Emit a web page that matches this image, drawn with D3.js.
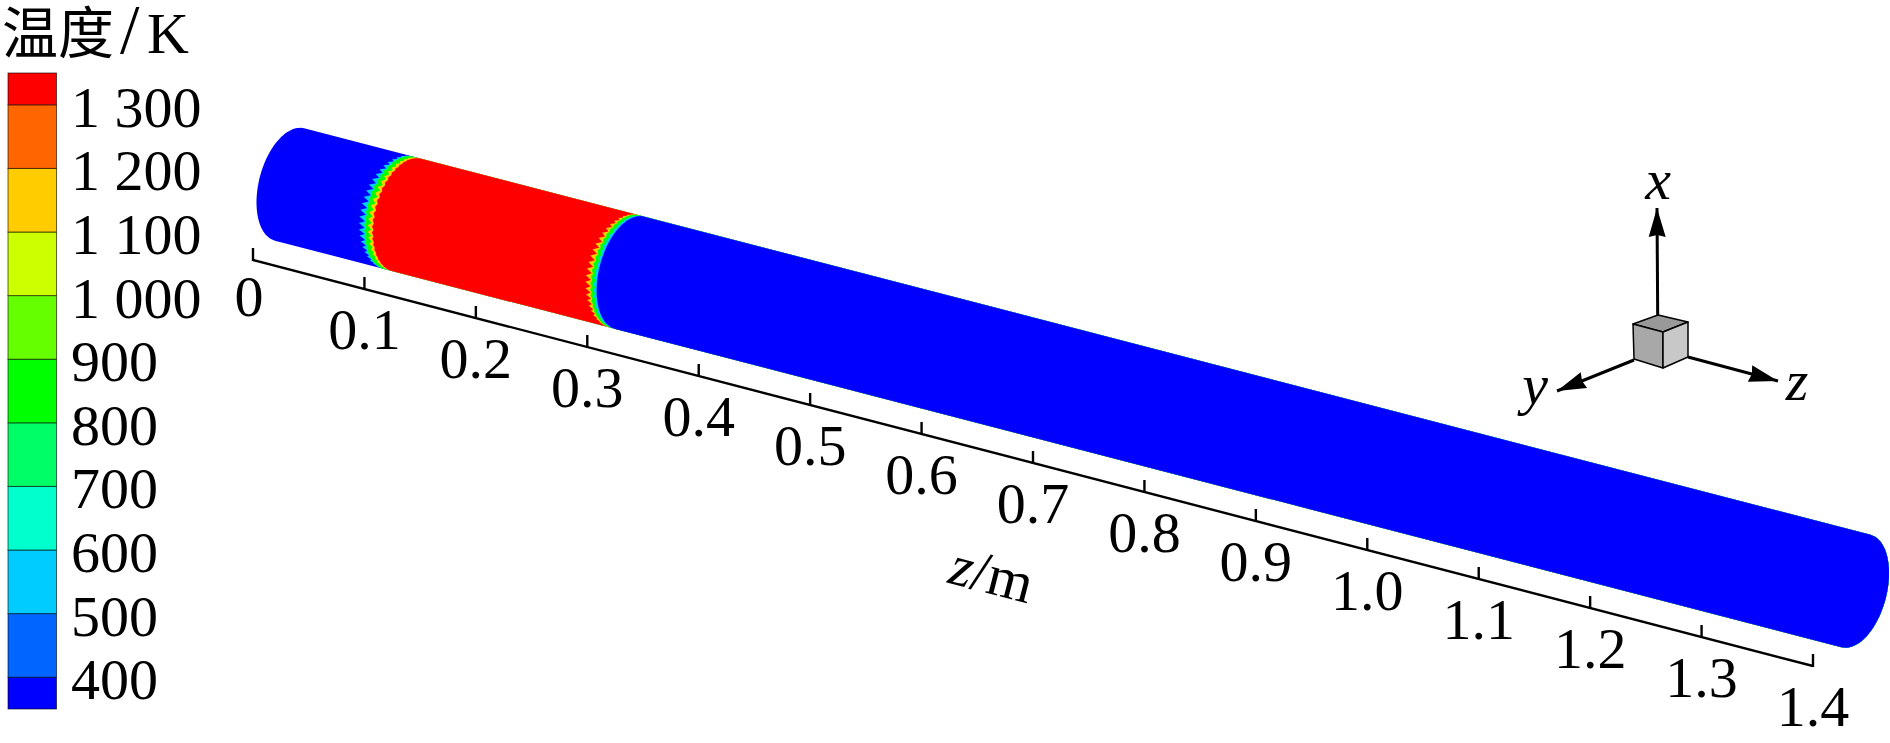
<!DOCTYPE html>
<html>
<head>
<meta charset="utf-8">
<title>温度/K</title>
<script src="https://d3js.org/d3.v7.min.js"></script>
<style>
body { margin: 0; background: #fff; }
text { font-family: "Liberation Serif", serif; font-size: 58px; fill: #000; }
</style>
</head>
<body>
<svg id="chart" width="1890" height="743"></svg>
<script>
// colour bar
var levels = [400, 500, 600, 700, 800, 900, 1000, 1100, 1200, 1300];
var levelColors = ["#0000ff", "#0066ff", "#00ccff", "#00ffcc", "#00ff66", "#00ff00", "#66ff00", "#ccff00", "#ffcc00", "#ff6600", "#ff0000"];
var barBounds = [350, 400, 500, 600, 700, 800, 900, 1000, 1100, 1200, 1300, 1350];

// z axis
var zTicks = [0, 0.1, 0.2, 0.3, 0.4, 0.5, 0.6, 0.7, 0.8, 0.9, 1.0, 1.1, 1.2, 1.3, 1.4];

// temperature along the tube, painted in z order
var stopZ = [0, 0.0965, 0.0975, 0.1025, 0.1045, 0.2985, 0.2995, 0.3025, 0.304];
var stopT = [380, 550, 850, 1150, 1340, 1150, 850, 550, 380];
var stopJag = [0, 0.0055, 0.0015, 0.0035, 0.0015, 0.005, 0.0015, 0.0015, 0];

var svg = d3.select("#chart");

var color = d3.scaleThreshold().domain(levels).range(levelColors);
var barY = d3.scaleLinear().domain([350, 1350]).range([709, 73]);

// tube centre line
var tubeX = d3.scaleLinear().domain([0, 1.4]).range([289.5, 1856]);
var tubeY = d3.scaleLinear().domain([0, 1.4]).range([184.5, 591]);
// axis line under the tube
var axisX = d3.scaleLinear().domain([0, 1.4]).range([253, 1813]);
var axisY = d3.scaleLinear().domain([0, 1.4]).range([260, 666]);

var slope = Math.atan2(tubeY(1.4) - tubeY(0), tubeX(1.4) - tubeX(0));
var dx = Math.cos(slope), dy = Math.sin(slope);
var radiusA = 58, radiusB = 30.6;
var line = d3.line();

function ringPoint(z, t, side) {
  var u = side * radiusB * Math.cos(t), v = radiusA * Math.sin(t);
  return [tubeX(z) + u * dx - v * dy, tubeY(z) + u * dy + v * dx];
}

// jagged far side of a section, spikes stick out to the low z side
function leftEdge(z, jag) {
  var n = 54;
  return d3.range(n + 1).map(function (i) {
    var t = -Math.PI / 2 + Math.PI * i / n;
    var off = i % 2 ? -jag * Math.cos(t) : 0;
    return ringPoint(z + off, t, -1);
  });
}

function rightCap() {
  return d3.range(41).map(function (i) {
    return ringPoint(1.4, Math.PI / 2 - Math.PI * i / 40, 1);
  });
}

svg.append("g").selectAll("path")
  .data(stopZ)
  .join("path")
  .attr("d", function (z, i) {
    return line(leftEdge(z, stopJag[i]).concat(rightCap())) + "Z";
  })
  .attr("fill", function (z, i) { return color(stopT[i]); });

// colour bar
var bar = svg.append("g");
bar.selectAll("rect")
  .data(d3.pairs(barBounds))
  .join("rect")
  .attr("x", 8)
  .attr("width", 48.5)
  .attr("y", function (d) { return barY(d[1]); })
  .attr("height", function (d) { return barY(d[0]) - barY(d[1]); })
  .attr("fill", function (d) { return color(d[0]); })
  .attr("stroke", "#000")
  .attr("stroke-opacity", 0.6)
  .attr("stroke-width", 1);

var locale = d3.formatLocale({ decimal: ".", thousands: " ", grouping: [3], currency: ["", ""] });
var barAxis = d3.axisRight(barY).tickValues(levels).tickFormat(locale.format(",d")).tickSize(0).tickPadding(0);
var barG = svg.append("g").attr("transform", "translate(71,3)").call(barAxis);
barG.select(".domain").remove();
barG.attr("font-family", null).attr("font-size", null);

var title = svg.append("text").attr("x", 2).attr("y", 53);
title.append("tspan").style("font-family", "'Noto Sans CJK SC'").style("font-size", "56px").text("温度");
title.append("tspan").attr("x", 120).style("font-size", "70px").text("/");
title.append("tspan").attr("x", 147).text("K");

// z axis
var zAxis = svg.append("g");
zAxis.append("line")
  .attr("x1", axisX(0)).attr("y1", axisY(0))
  .attr("x2", axisX(1.4)).attr("y2", axisY(1.4))
  .attr("stroke", "#000").attr("stroke-width", 2.4);
zAxis.selectAll(".tick")
  .data(zTicks)
  .join("line")
  .attr("class", "tick")
  .attr("x1", axisX).attr("x2", axisX)
  .attr("y1", function (d) { return axisY(d) + 1; })
  .attr("y2", function (d) { return axisY(d) - 12; })
  .attr("stroke", "#000").attr("stroke-width", 2.4);
zAxis.selectAll("text")
  .data(zTicks)
  .join("text")
  .attr("text-anchor", "middle")
  .attr("x", function (d) { return axisX(d) - (d === 0 ? 4 : 0); })
  .attr("y", function (d) { return axisY(d) + (d === 0 ? 56 : 60); })
  .text(function (d) { return d === 0 ? "0" : d.toFixed(1); });

var zLabel = svg.append("text")
  .attr("text-anchor", "middle")
  .attr("transform", "translate(987,593) rotate(14.5)");
zLabel.append("tspan").style("font-style", "italic").text("z");
zLabel.append("tspan").text("/m");

// orientation triad
var defs = svg.append("defs");
defs.append("marker")
  .attr("id", "head")
  .attr("markerUnits", "userSpaceOnUse")
  .attr("markerWidth", 32).attr("markerHeight", 20)
  .attr("viewBox", "0 0 32 20")
  .attr("refX", 30).attr("refY", 10)
  .attr("orient", "auto")
  .append("path")
  .attr("d", "M1,1.5 L30,10 L1,18.5 L3,10 Z")
  .attr("fill", "#000");

var triad = svg.append("g");
var arrows = [
  [[1657.7, 316], [1657, 208]],
  [[1634, 360], [1557, 391]],
  [[1688, 357], [1778, 381]]
];
triad.selectAll("line")
  .data(arrows)
  .join("line")
  .attr("x1", function (d) { return d[0][0]; })
  .attr("y1", function (d) { return d[0][1]; })
  .attr("x2", function (d) { return d[1][0]; })
  .attr("y2", function (d) { return d[1][1]; })
  .attr("stroke", "#000").attr("stroke-width", 3)
  .attr("marker-end", "url(#head)");

var cubeFaces = [
  { fill: "#999999", pts: [[1633, 324], [1658, 315], [1688, 322], [1663, 332]] },
  { fill: "#a8a8a8", pts: [[1633, 324], [1663, 332], [1663, 368], [1634, 359]] },
  { fill: "#c8c8c8", pts: [[1663, 332], [1688, 322], [1688, 357], [1663, 368]] }
];
triad.selectAll("path")
  .data(cubeFaces)
  .join("path")
  .attr("d", function (d) { return line(d.pts) + "Z"; })
  .attr("fill", function (d) { return d.fill; })
  .attr("stroke", "#000").attr("stroke-width", 1.5).attr("stroke-linejoin", "round");

var triadLabels = [["x", 1658, 199], ["y", 1535, 404], ["z", 1797, 400]];
triad.selectAll("text")
  .data(triadLabels)
  .join("text")
  .attr("text-anchor", "middle")
  .style("font-style", "italic")
  .attr("x", function (d) { return d[1]; })
  .attr("y", function (d) { return d[2]; })
  .text(function (d) { return d[0]; });
</script>
</body>
</html>
